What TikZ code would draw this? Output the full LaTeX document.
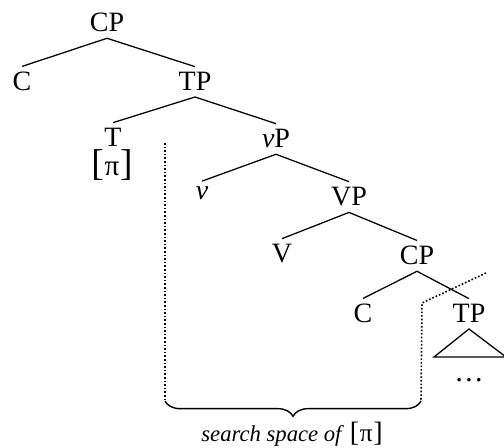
\documentclass[tikz,border=0pt]{standalone}
\usepackage{fontspec}
\setmainfont{Liberation Serif}
\usetikzlibrary{decorations.pathreplacing}
\begin{document}
\begin{tikzpicture}[x=0.75pt,y=-0.75pt,
  lab/.style={font=\fontsize{21}{21}\selectfont, inner sep=0pt, outer sep=4.5pt, anchor=base},
  branch/.style={line width=0.95pt},
  dotline/.style={line width=1.2pt, dash pattern=on 1.2pt off 1.5pt},
  bigbr/.style={font=\fontsize{22}{22}\selectfont, inner sep=0pt, anchor=base},
]
\clip (0,0) rectangle (504,448);
% tree labels
\node[lab] (cp1) at (107,32) {CP};
\node[lab] (c1) at (22,91) {C};
\node[lab] (tp1) at (195,91) {TP};
\node[lab] (t) at (113,147) {T};
\node[bigbr] (pi) at (112,176) {{\fontsize{28}{28}\selectfont[}\kern0.6ptπ\kern0.6pt{\fontsize{28}{28}\selectfont]}};
\node[lab] (vp) at (276,148) {\textit{ν}P};
\node[lab] (v) at (202,200) {\textit{ν}};
\node[lab] (VP) at (349,206) {VP};
\node[lab] (V) at (282,263) {V};
\node[lab] (cp2) at (417,265) {CP};
\node[lab] (c2) at (363,323) {C};
\node[lab] (tp2) at (469,323) {TP};
\node[bigbr] (dots) at (469,382) {\dots};
% branches
\draw[branch] (c1.north) -- (cp1.south) -- (tp1.north);
\draw[branch] (t.north) -- (tp1.south) -- (vp.north);
\draw[branch] (v.north) -- (vp.south) -- (VP.north);
\draw[branch] (V.north) -- (VP.south) -- (cp2.north);
\draw[branch] (c2.north) -- (cp2.south) -- (tp2.north);
\coordinate (trl) at (434,357);
\coordinate (trr) at (506,357);
\draw[branch] (tp2.south) -- (trl) -- (trr) -- cycle;
% dotted boundaries
\coordinate (d1) at (165,143);
\coordinate (bl) at (165,401);
\coordinate (d2) at (486,273);
\coordinate (d3) at (422,303);
\coordinate (br) at (421,401);
\draw[dotline] (d1) -- (bl);
\draw[dotline] (d2) -- (d3) -- (br);
\draw[line width=1.05pt, decorate, decoration={brace, mirror, amplitude=11.5pt}] (bl) -- (br);
\node[font=\fontsize{17}{17}\selectfont\itshape, inner sep=0pt, anchor=base] (lbl) at (292,442) {search space of \textup{{\fontsize{21}{21}\selectfont[}\kern0.5pt{\fontsize{19}{19}\selectfont π}\kern0.5pt{\fontsize{21}{21}\selectfont]}}};
\end{tikzpicture}
\end{document}
